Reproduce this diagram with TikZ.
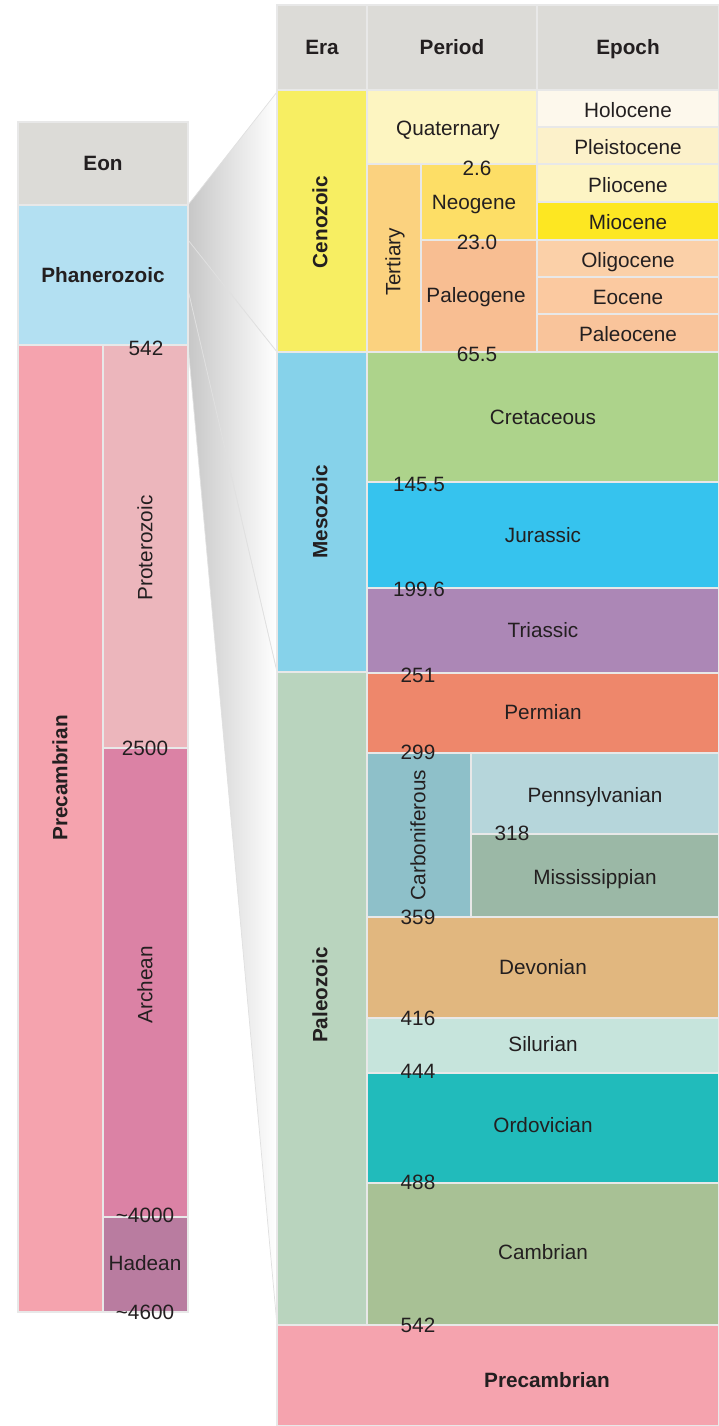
\documentclass[tikz,border=0pt]{standalone}
\usepackage{fontspec}
\setmainfont{Liberation Sans}
\usetikzlibrary{positioning}
\definecolor{headgray}{HTML}{DCDBD7}
\definecolor{phanero}{HTML}{B3E0F2}
\definecolor{precamb}{HTML}{F5A3AE}
\definecolor{protero}{HTML}{ECB6BC}
\definecolor{archean}{HTML}{DB82A5}
\definecolor{hadean}{HTML}{B97CA0}
\definecolor{cenozoic}{HTML}{F7EE62}
\definecolor{mesozoic}{HTML}{86D2EA}
\definecolor{paleozoic}{HTML}{B9D4BE}
\definecolor{quatern}{HTML}{FDF5C1}
\definecolor{tertiary}{HTML}{FBD27F}
\definecolor{neogene}{HTML}{FDDE66}
\definecolor{paleogene}{HTML}{F8BE92}
\definecolor{holocene}{HTML}{FDF8EC}
\definecolor{pleisto}{HTML}{FCF1CA}
\definecolor{pliocene}{HTML}{FDF4C4}
\definecolor{miocene}{HTML}{FDE722}
\definecolor{oligocene}{HTML}{FBD0A8}
\definecolor{eocene}{HTML}{FBC9A0}
\definecolor{paleocene}{HTML}{F9C49B}
\definecolor{cretac}{HTML}{ADD38B}
\definecolor{jurassic}{HTML}{36C3EE}
\definecolor{triassic}{HTML}{AC87B6}
\definecolor{permian}{HTML}{EE876B}
\definecolor{carbon}{HTML}{8EC0C9}
\definecolor{pennsyl}{HTML}{B6D6DB}
\definecolor{mississ}{HTML}{9BB8A6}
\definecolor{devonian}{HTML}{E1B77F}
\definecolor{silurian}{HTML}{C6E4DC}
\definecolor{ordovic}{HTML}{21BBBB}
\definecolor{cambrian}{HTML}{A8C195}
\definecolor{inktext}{HTML}{231F20}
\tikzset{
  cell/.style={draw=black!9,line width=0.6pt},
  lbl/.style={font=\fontsize{11.8}{14}\selectfont,text=inktext,inner sep=1pt,
    text height=8.5pt,text depth=0pt},
  hdr/.style={lbl,font=\fontsize{11.8}{14}\selectfont\bfseries},
  fan/.style={left color=black!22,right color=white,draw=black!12,line width=0.4pt}
}

\begin{document}
\begin{tikzpicture}[x=0.02cm,y=-0.02cm]
        \useasboundingbox (0,0) rectangle (719,1426);
        % folded sheets between the two columns
        \shade[fan] (188,205) -- (277,92) -- (277,352) -- (188,240) -- cycle;
        \shade[fan] (188,240) -- (277,352) -- (277,672) -- (188,290) -- cycle;
        \shade[fan] (188,290) -- (277,672) -- (277,1325) -- (188,345) -- cycle;
        % eon column
        \fill[headgray,cell] (18,122) rectangle (188,205);
        \fill[phanero,cell] (18,205) rectangle (188,345);
        \fill[precamb,cell] (18,345) rectangle (103,1312);
        \fill[protero,cell] (103,345) rectangle (188,748);
        \fill[archean,cell] (103,748) rectangle (188,1217);
        \fill[hadean,cell] (103,1217) rectangle (188,1312);
        % header row
        \fill[headgray,cell] (277,5) rectangle (367,90);
        \fill[headgray,cell] (367,5) rectangle (537,90);
        \fill[headgray,cell] (537,5) rectangle (719,90);
        % eras
        \fill[cenozoic,cell] (277,90) rectangle (367,352);
        \fill[mesozoic,cell] (277,352) rectangle (367,672);
        \fill[paleozoic,cell] (277,672) rectangle (367,1325);
        \fill[precamb,cell] (277,1325) rectangle (719,1426);
        % Cenozoic periods and epochs
        \fill[quatern,cell] (367,90) rectangle (537,164);
        \fill[tertiary,cell] (367,164) rectangle (421,352);
        \fill[neogene,cell] (421,164) rectangle (537,240);
        \fill[paleogene,cell] (421,240) rectangle (537,352);
        \fill[holocene,cell] (537,90) rectangle (719,127);
        \fill[pleisto,cell] (537,127) rectangle (719,164);
        \fill[pliocene,cell] (537,164) rectangle (719,202);
        \fill[miocene,cell] (537,202) rectangle (719,240);
        \fill[oligocene,cell] (537,240) rectangle (719,277);
        \fill[eocene,cell] (537,277) rectangle (719,314);
        \fill[paleocene,cell] (537,314) rectangle (719,352);
        % Mesozoic periods
        \fill[cretac,cell] (367,352) rectangle (719,482);
        \fill[jurassic,cell] (367,482) rectangle (719,588);
        \fill[triassic,cell] (367,588) rectangle (719,673);
        % Paleozoic periods
        \fill[permian,cell] (367,673) rectangle (719,753);
        \fill[carbon,cell] (367,753) rectangle (471,917);
        \fill[pennsyl,cell] (471,753) rectangle (719,834);
        \fill[mississ,cell] (471,834) rectangle (719,917);
        \fill[devonian,cell] (367,917) rectangle (719,1018);
        \fill[silurian,cell] (367,1018) rectangle (719,1073);
        \fill[ordovic,cell] (367,1073) rectangle (719,1183);
        \fill[cambrian,cell] (367,1183) rectangle (719,1325);
        % eon labels
        \node[hdr] (eon) at (103,163) {Eon};
        \node[hdr] (phan) at (103,275) {Phanerozoic};
        \node[hdr,rotate=90] (precL) at (60,778) {Precambrian};
        \node[lbl,rotate=90] (prot) at (145,548) {Proterozoic};
        \node[lbl,rotate=90] (arch) at (145,985) {Archean};
        \node[lbl] (hade) at (145,1263) {Hadean};
        % column headers
        \node[hdr] (era) at (322,47) {Era};
        \node[hdr] (period) at (452,47) {Period};
        \node[hdr] (epoch) at (628,47) {Epoch};
        % era labels
        \node[hdr,rotate=90] (ceno) at (320,222) {Cenozoic};
        \node[hdr,rotate=90] (meso) at (320,512) {Mesozoic};
        \node[hdr,rotate=90] (paleo) at (320,995) {Paleozoic};
        \node[hdr] (precR) at (547,1380) {Precambrian};
        % period labels
        \node[lbl] (quat) at (448,128) {Quaternary};
        \node[lbl,rotate=90] (tert) at (393,262) {Tertiary};
        \node[lbl] (neog) at (474,202) {Neogene};
        \node[lbl] (paleog) at (476,295) {Paleogene};
        \node[lbl] (cret) at (543,417) {Cretaceous};
        \node[lbl] (jura) at (543,535) {Jurassic};
        \node[lbl] (tria) at (543,630) {Triassic};
        \node[lbl] (perm) at (543,712) {Permian};
        \node[lbl,rotate=90] (carb) at (418,835) {Carboniferous};
        \node[lbl] (penn) at (595,795) {Pennsylvanian};
        \node[lbl] (miss) at (595,877) {Mississippian};
        \node[lbl] (devo) at (543,967) {Devonian};
        \node[lbl] (silu) at (543,1044) {Silurian};
        \node[lbl] (ordo) at (543,1125) {Ordovician};
        \node[lbl] (camb) at (543,1252) {Cambrian};
        % epoch labels
        \node[lbl] (holo) at (628,110) {Holocene};
        \node[lbl] (pleis) at (628,147) {Pleistocene};
        \node[lbl] (plio) at (628,185) {Pliocene};
        \node[lbl] (mio) at (628,222) {Miocene};
        \node[lbl] (oligo) at (628,260) {Oligocene};
        \node[lbl] (eoc) at (628,297) {Eocene};
        \node[lbl] (paleoc) at (628,334) {Paleocene};
        % boundary ages (million years)
        \node[lbl] (y542a) at (146,348) {542};
        \node[lbl] (y2500) at (145,748) {2500};
        \node[lbl] (y4000) at (145,1215) {\textasciitilde 4000};
        \node[lbl] (y4600) at (145,1312) {\textasciitilde 4600};
        \node[lbl] (y2p6) at (477,168) {2.6};
        \node[lbl] (y23) at (477,242) {23.0};
        \node[lbl] (y65) at (477,354) {65.5};
        \node[lbl] (y145) at (419,484) {145.5};
        \node[lbl] (y199) at (419,589) {199.6};
        \node[lbl] (y251) at (418,675) {251};
        \node[lbl] (y299) at (418,752) {299};
        \node[lbl] (y318) at (512,833) {318};
        \node[lbl] (y359) at (418,917) {359};
        \node[lbl] (y416) at (418,1018) {416};
        \node[lbl] (y444) at (418,1071) {444};
        \node[lbl] (y488) at (418,1182) {488};
        \node[lbl] (y542b) at (418,1325) {542};
      \end{tikzpicture}
\end{document}
